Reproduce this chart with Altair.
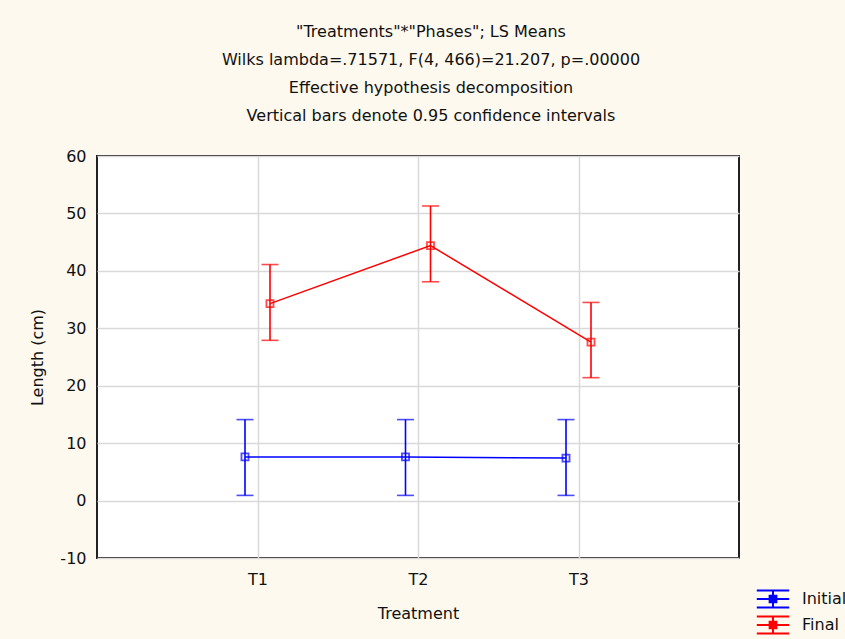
import altair as alt
import pandas as pd

categories = ["T1", "T2", "T3"]
series_names = ["Initial", "Final"]
initial_mean = [7.6, 7.6, 7.4]
initial_lo = [0.9, 0.9, 0.9]
initial_hi = [14.1, 14.1, 14.1]
final_mean = [34.3, 44.4, 27.6]
final_lo = [27.9, 38.1, 21.4]
final_hi = [41.1, 51.3, 34.5]
colors = ["#0000FF", "#FF0000"]
title_lines = [
    '"Treatments"*"Phases"; LS Means',
    "Wilks lambda=.71571, F(4, 466)=21.207, p=.00000",
    "Effective hypothesis decomposition",
    "Vertical bars denote 0.95 confidence intervals",
]

init_df = pd.DataFrame({"Treatment": categories, "mean": initial_mean,
                        "lo": initial_lo, "hi": initial_hi, "Phase": "Initial"})
final_df = pd.DataFrame({"Treatment": categories, "mean": final_mean,
                         "lo": final_lo, "hi": final_hi, "Phase": "Final"})

FONT = "DejaVu Sans"
FS = 16

xenc = alt.X("Treatment:N", sort=categories, title="Treatment",
             scale=alt.Scale(type="point", padding=1),
             axis=alt.Axis(grid=True, ticks=False, labelAngle=0, labelPadding=13,
                           titlePadding=18, domain=False))
yscale = alt.Scale(domain=[-10, 60], nice=False, zero=False)
color_scale = alt.Scale(domain=series_names, range=colors)

legend_path = ("M-1.35,-0.7H1.35M-1.35,0H1.35M-1.35,0.7H1.35M0,-0.7V0.7"
               "M-0.28,-0.28H0.28V0.28H-0.28Z")


def series_layers(df, off, legend):
    base = alt.Chart(df)
    col = alt.Color("Phase:N", scale=color_scale, legend=legend)
    line = base.mark_line(strokeWidth=1.5, xOffset=off).encode(
        x=xenc,
        y=alt.Y("mean:Q", scale=yscale, title="Length (cm)",
                axis=alt.Axis(values=list(range(-10, 61, 10)), ticks=False,
                              labelExpr="datum.value + ''",
                              labelPadding=11, titlePadding=14, domain=False)),
        color=col,
    )
    rule = base.mark_rule(strokeWidth=1.6, xOffset=off).encode(
        x=xenc, y="lo:Q", y2="hi:Q",
        color=alt.Color("Phase:N", scale=color_scale, legend=None))
    cap_hi = base.mark_tick(thickness=1.6, size=17, xOffset=off).encode(
        x=xenc, y="hi:Q",
        color=alt.Color("Phase:N", scale=color_scale, legend=None))
    cap_lo = base.mark_tick(thickness=1.6, size=17, xOffset=off).encode(
        x=xenc, y="lo:Q",
        color=alt.Color("Phase:N", scale=color_scale, legend=None))
    pts = base.mark_point(shape="square", size=50, filled=False, strokeWidth=1.8,
                          xOffset=off).encode(
        x=xenc, y="mean:Q",
        color=alt.Color("Phase:N", scale=color_scale, legend=None))
    return [line, rule, cap_hi, cap_lo, pts]


legend = alt.Legend(title=None, orient="none", legendX=663, legendY=430,
                    symbolType=legend_path, symbolSize=576, symbolStrokeWidth=2,
                    symbolFillColor="white", labelFontSize=FS, labelColor="#111",
                    labelFont=FONT, labelOffset=16, rowPadding=0)

layers = series_layers(init_df, -12.5, legend) + series_layers(final_df, 12.5, None)

chart = alt.layer(*layers).properties(
    width=642, height=402,
    title=alt.TitleParams(text=title_lines, fontSize=FS, font=FONT, fontWeight="normal",
                          lineHeight=28, anchor="middle", dx=13, offset=24, color="#111"),
    autosize=alt.AutoSizeParams(type="none"),
    padding={"left": 97, "top": 156, "right": 106, "bottom": 81},
    background="#FEF9EE",
).configure_view(
    fill="white", stroke="#222", strokeWidth=2,
).configure_axis(
    labelFont=FONT, titleFont=FONT, labelFontSize=FS, titleFontSize=FS,
    titleFontWeight="normal", labelColor="#111", titleColor="#111",
    gridColor="#D9D9D9", gridWidth=1.5,
)

chart.save("out.html", embed_options={"renderer": "svg", "actions": False})
